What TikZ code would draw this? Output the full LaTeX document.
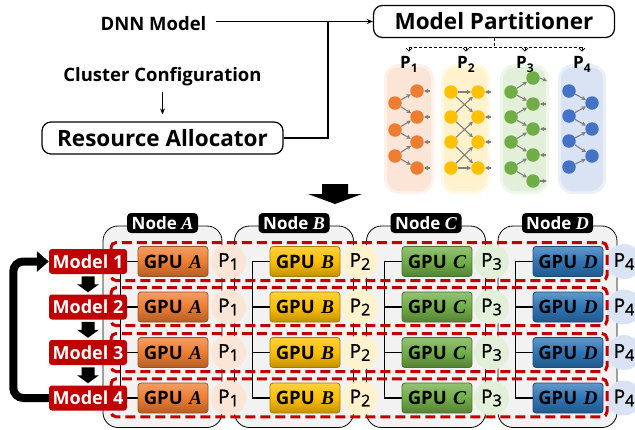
\documentclass[tikz,border=0pt]{standalone}
\usepackage{fontspec}
\setmainfont{Open Sans}
\newfontfamily\varfont{Liberation Serif}
\newfontfamily\pfont[FakeBold=1.2]{Open Sans}
\usetikzlibrary{arrows.meta,calc}
\definecolor{cOr}{HTML}{ED7D31}
\definecolor{cYe}{HTML}{FFC000}
\definecolor{cGr}{HTML}{70AD47}
\definecolor{cBl}{HTML}{4472C4}
\definecolor{cBlD}{HTML}{2E75B6}
\definecolor{lOr}{HTML}{FBE5D6}
\definecolor{lYe}{HTML}{FFF2CC}
\definecolor{lGr}{HTML}{E2F0D9}
\definecolor{lBl}{HTML}{DAE3F3}
\definecolor{dRed}{HTML}{C00000}
\definecolor{nodeGray}{HTML}{F2F2F2}
\definecolor{arrGray}{HTML}{7F7F7F}
\newcommand\Pnum[1]{P\raisebox{-3pt}{\fontsize{16}{16}\selectfont #1}}
\newcommand\Ptop[1]{P\raisebox{-4pt}{\fontsize{12}{12}\selectfont #1}}
\newcommand\Var[1]{{\varfont\bfseries\itshape\fontsize{19.5}{20}\selectfont #1}}
\tikzset{
  conn/.style={draw=black, line width=1.2pt},
  bigbox/.style={draw=black, line width=1.2pt, rounded corners=9pt, minimum width=241pt, minimum height=32pt, inner sep=0pt, font=\fontsize{22.5}{24}\selectfont\bfseries},
  plain/.style={inner sep=0pt, font=\fontsize{18.5}{20}\selectfont\bfseries},
  toplab/.style={inner sep=0pt, font=\fontsize{17}{18}\selectfont\bfseries},
  pdash/.style={draw=black, line width=0.8pt, dash pattern=on 3pt off 2pt},
  dot/.style={circle, fill=#1, minimum size=13.5pt, inner sep=0pt},
  net/.style={draw=arrGray, line width=1.1pt, -{Stealth[length=4.5pt,width=4.5pt]}},
  nodebox/.style={draw=black, line width=0.8pt, fill=nodeGray, rounded corners=15pt, minimum width=119pt, minimum height=201.5pt, inner sep=0pt},
  nlabel/.style={fill=black, text=white, rounded corners=4pt, minimum width=71pt, minimum height=20pt, inner sep=0pt, font=\fontsize{17}{18}\selectfont\bfseries},
  gpubox/.style={draw=#1!65!black, line width=0.8pt, rounded corners=3pt, top color=#1!75!white, bottom color=#1!75!black, middle color=#1, minimum width=70pt, minimum height=30pt, inner sep=0pt, font=\fontsize{18.5}{19}\selectfont\bfseries},
  pcirc/.style={circle, fill=#1, minimum size=35pt, inner sep=0pt, font=\pfont\fontsize{19}{20}\selectfont},
  modelbox/.style={fill=dRed, text=white, rounded corners=3pt, minimum width=78pt, minimum height=25pt, inner sep=0pt, font=\fontsize{18}{19}\selectfont\bfseries},
  bus/.style={draw=black, line width=1.2pt},
  dashbox/.style={draw=dRed, line width=3pt, dash pattern=on 10pt off 5pt, rounded corners=5pt},
  smalldown/.pic={\fill[black] (-6.5,-8) -- (6.5,-8) -- (6.5,0) -- (11,0) -- (0,8) -- (-11,0) -- (-6.5,0) -- cycle;},
  bigdown/.pic={\fill[black] (-13,-9) -- (13,-9) -- (13,1) -- (27,1) -- (0,11) -- (-27,1) -- (-13,1) -- cycle;}
}
\begin{document}
\begin{tikzpicture}[x=1pt,y=-1pt]
\useasboundingbox (0,0) rectangle (635,429);

% ---------- top part ----------
\node[plain, anchor=base] (dnn) at (153.5,30.5) {DNN Model};
\node[plain, anchor=base] (cc) at (162.5,81) {Cluster Configuration};
\node[bigbox] (ra) at (162.5,138) {Resource Allocator};
\node[bigbox] (mp) at (494,21.5) {Model Partitioner};
\coordinate (jn) at (328,21.5);
\draw[conn] ($(dnn.east |- jn)+(9,0)$) -- (jn);
\draw[conn, -{Stealth[length=6pt,width=5pt]}] (ra.east) -| (jn) -- (mp.west);
\draw[conn, -{Stealth[length=6pt,width=5pt]}, shorten <=6pt, shorten >=7pt] (cc.south) -- (ra.north);

% partition backgrounds
\foreach \xa/\xb/\cl in {387/431/lOr, 444/487/lYe, 503/546/lGr, 561/603/lBl} {
  \fill[\cl!55!white, rounded corners=15pt] (\xa-3,64) rectangle (\xb+3,194);
  \fill[\cl, rounded corners=12pt] (\xa,67) rectangle (\xb,191);
}

% partition labels and dashed distribution
\node[toplab, anchor=base] (tp1) at (409,68) {\Ptop{1}};
\node[toplab, anchor=base] (tp2) at (466,68) {\Ptop{2}};
\node[toplab, anchor=base] (tp3) at (525,68) {\Ptop{3}};
\node[toplab, anchor=base] (tp4) at (582,68) {\Ptop{4}};
\coordinate (dj) at (494,47);
\draw[pdash] (mp.south) -- (dj);
\draw[pdash] (tp1 |- dj) -- (tp4 |- dj);
\foreach \k in {1,...,4}
  \draw[pdash, -{Straight Barb[length=3pt,width=6pt]}] (tp\k |- dj) -- ([yshift=4pt]tp\k.north);

% P1 network (orange)
\foreach \y [count=\i] in {103,130,156} \node[dot=cOr] (aL\i) at (395,\y) {};
\foreach \y [count=\i] in {91,117,142,168} \node[dot=cOr] (aR\i) at (417,\y) {};
\foreach \i [evaluate=\i as \j using int(\i+1)] in {1,2,3} {
  \draw[net] (aL\i) -- (aR\i);
  \draw[net] (aL\i) -- (aR\j);
}
\foreach \i in {1,...,4} \draw[net] ([xshift=6pt]aR\i.east) -- (aR\i.east);

% P2 network (yellow)
\foreach \y [count=\i] in {92,117,142,168} {
  \node[dot=cYe] (bL\i) at (451,\y) {};
  \node[dot=cYe] (bR\i) at (478,\y) {};
}
\foreach \s/\t in {1/1,1/2,2/1,2/3,3/2,3/4,4/3,4/4} \draw[net] (bL\s) -- (bR\t);
\foreach \i in {1,...,4} \draw[net] ([xshift=6pt]bR\i.east) -- (bR\i.east);

% P3 network (green)
\foreach \y [count=\i] in {92,117,142,168} \node[dot=cGr] (cL\i) at (511,\y) {};
\foreach \y [count=\i] in {78,104,129,155,181} \node[dot=cGr] (cR\i) at (533,\y) {};
\foreach \i [evaluate=\i as \j using int(\i+1)] in {1,...,4} {
  \draw[net] (cL\i) -- (cR\i);
  \draw[net] (cL\i) -- (cR\j);
}
\foreach \i in {2,3,4} \draw[net] ([xshift=6pt]cR\i.east) -- (cR\i.east);
\draw[net] (cR1.east) -- ++(7,3);
\draw[net] (cR5.east) -- ++(7,0);

% P4 network (blue)
\foreach \y [count=\i] in {91,116,141,167} \node[dot=cBl] (dL\i) at (569,\y) {};
\foreach \y [count=\i] in {103,129,156} \node[dot=cBl] (dR\i) at (592,\y) {};
\foreach \s/\t in {1/1,2/1,2/2,3/2,3/3,4/3} \draw[net] (dL\s) -- (dR\t);

% big arrow
\pic at (335,193) {bigdown};

% ---------- bottom part ----------
\foreach \n/\xx in {A/162.5, B/294, C/426, D/557.5} {
  \node[nodebox] (N\n) at (\xx,326.75) {};
  \node[nlabel] (L\n) at (\xx,223) {Node {\varfont\bfseries\itshape\fontsize{18}{18}\selectfont \n}};
}
\foreach \n/\gx/\cc/\pc/\px/\k in {A/173/cOr/lOr/228.5/1, B/305/cYe/lYe/360/2, C/437/cGr/lGr/491.5/3, D/568/cBlD/lBl/624/4} {
  \foreach \yy [count=\i] in {261.5,307,352.5,398} {
    \node[gpubox=\cc] (gpu\n\i) at (\gx,\yy) {GPU\hspace{1.5pt} \Var{\n}};
    \node[pcirc=\pc] (p\n\i) at (\px,\yy) {\Pnum{\k}};
  }
}

% buses
\draw[bus] ([xshift=-17pt]gpuA1.west) -- ([xshift=-17pt]gpuA4.west);
\foreach \n in {B,C,D} {
  \draw[bus] (gpu\n1.west) -- ++(-17,0) coordinate (bus\n) |- (gpu\n4.west);
  \draw[bus] (gpu\n2.west) -- (gpu\n2.west -| bus\n);
  \draw[bus] (gpu\n3.west) -- (gpu\n3.west -| bus\n);
}

% dashed model groups
\foreach \yy in {261.5,306.7,352.5,397.8}
  \draw[dashbox] (111,\yy-19) rectangle (607,\yy+19);

% models
\foreach \yy [count=\i] in {261.5,307,352.5,398}
  \node[modelbox] (m\i) at (88,\yy) {Model \i};
\foreach \i in {1,...,4} \draw[bus] (m\i.east) -- (gpuA\i.west);
\foreach \a/\b in {1/2,2/3,3/4} \pic at ($(m\a.south)!0.5!(m\b.north)$) {smalldown};
\draw[line width=8pt, rounded corners=10pt, -{Triangle[length=12pt,width=20pt]}] (m4.west) -- ++(-35.5,0) |- (m1.west);
\end{tikzpicture}
\end{document}
